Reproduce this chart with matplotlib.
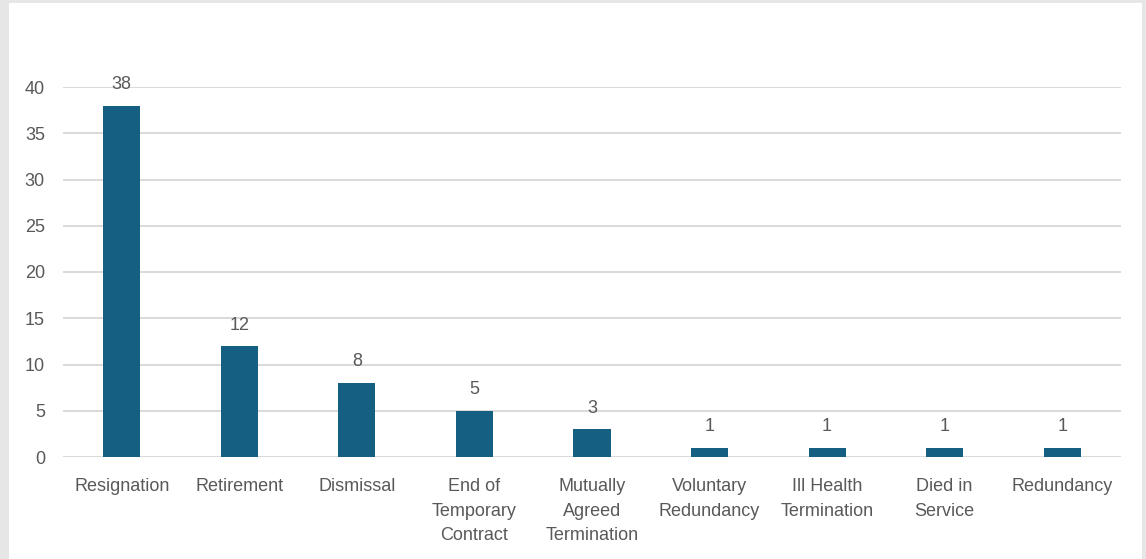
import matplotlib

matplotlib.use("Agg")
import matplotlib.pyplot as plt  # noqa: E402
from matplotlib.patches import Rectangle  # noqa: E402

categories = [
    "Resignation",
    "Retirement",
    "Dismissal",
    "End of\nTemporary\nContract",
    "Mutually\nAgreed\nTermination",
    "Voluntary\nRedundancy",
    "Ill Health\nTermination",
    "Died in\nService",
    "Redundancy",
]
counts = [38, 12, 8, 5, 3, 1, 1, 1, 1]
yticks = [0, 5, 10, 15, 20, 25, 30, 35, 40]

BAR = "#156082"
TXT = "#595959"
GRID = "#d9d9d9"

plt.rcParams["font.family"] = ["Liberation Sans", "DejaVu Sans"]

W, H = 1146, 559
fig = plt.figure(figsize=(W / 100, H / 100), dpi=100)
fig.patch.set_facecolor("#e6e6e6")
fig.patches.append(
    Rectangle((9 / W, 0), (1142 - 9) / W, (H - 3) / H, transform=fig.transFigure,
              facecolor="white", edgecolor="none", zorder=-10)
)

ax = fig.add_axes([63 / W, (H - 457) / H, (1121 - 63) / W, (457 - 87) / H])
ax.set_facecolor("none")
x = range(len(categories))
bars = ax.bar(x, counts, width=0.315, color=BAR, zorder=3)
for b, v in zip(bars, counts):
    ax.annotate(str(v), (b.get_x() + b.get_width() / 2, v), xytext=(0, 9),
                textcoords="offset points", ha="center", va="bottom",
                fontsize=13, color=TXT, annotation_clip=False)

ax.set_xlim(-0.5, len(categories) - 0.5)
ax.set_ylim(0, 40)
ax.set_yticks(yticks)
ax.set_xticks(list(x))
ax.set_xticklabels(categories, linespacing=1.6)
ax.tick_params(axis="both", length=0, labelsize=13, labelcolor=TXT)
ax.tick_params(axis="x", pad=15)
ax.tick_params(axis="y", pad=13)
ax.yaxis.grid(True, color=GRID, linewidth=1.4, zorder=0)
for s in ax.spines.values():
    s.set_visible(False)

fig.savefig("out.png", dpi=100, facecolor=fig.get_facecolor())
